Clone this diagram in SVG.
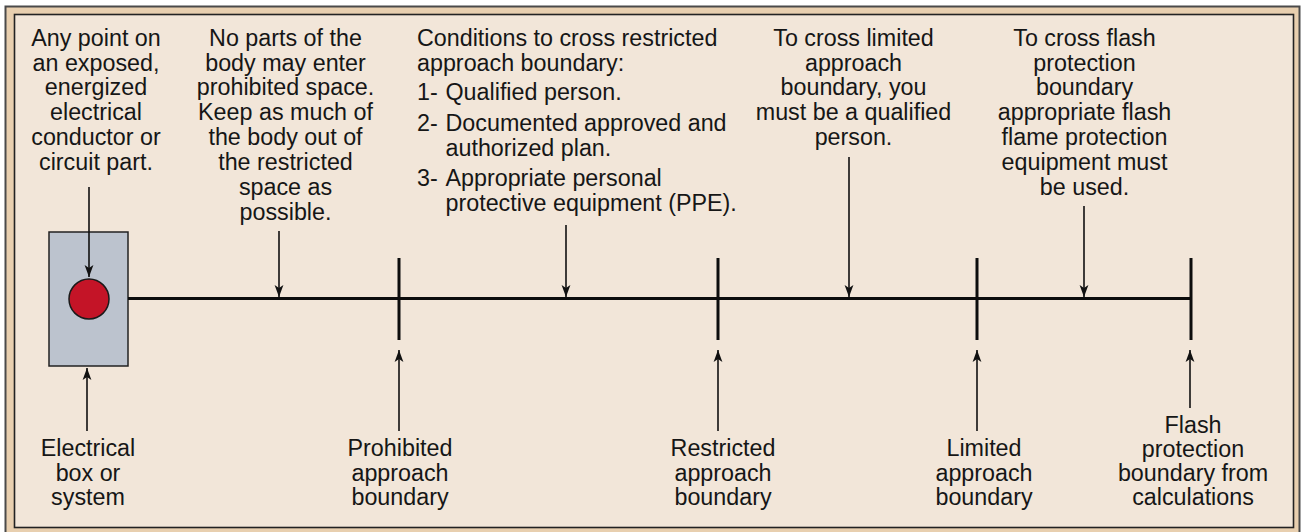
<svg xmlns="http://www.w3.org/2000/svg" width="1301" height="532" viewBox="0 0 1301 532">
<defs>
<marker id="ah" markerUnits="userSpaceOnUse" markerWidth="13" markerHeight="10" viewBox="0 0 13 10" refX="12" refY="5" orient="auto">
<path d="M0,0.6 L12,5 L0,9.4 L3,5 Z" fill="#111"/>
</marker>
<style>
text{font-family:"Liberation Sans",Arial,sans-serif;font-size:23.3px;fill:#161616}
.c{text-anchor:middle}
.arr{stroke:#111;stroke-width:1.6;fill:none;marker-end:url(#ah)}
.bar{stroke:#0d0d0d;stroke-width:3;fill:none}
</style>
</defs>
<rect x="0" y="0" width="1301" height="532" fill="#ffffff"/>
<rect x="5.5" y="6.5" width="1294" height="530" fill="#e8cfaf" stroke="#4a4a4a" stroke-width="2"/>
<rect x="14.5" y="14.5" width="1279" height="513" fill="#f2e6d9" stroke="#222" stroke-width="1.6"/>

<g id="box">
<rect x="49" y="232" width="79" height="134" fill="#bcc3ce" stroke="#222" stroke-width="1.5"/>
<circle cx="89" cy="299" r="20" fill="#c41427" stroke="#1a1a1a" stroke-width="1.5"/>
</g>

<g id="connectors">
<line class="bar" x1="128" y1="298.5" x2="1191" y2="298.5"/>
<line class="bar" x1="399" y1="258" x2="399" y2="340"/>
<line class="bar" x1="718" y1="258" x2="718" y2="340"/>
<line class="bar" x1="977" y1="258" x2="977" y2="340"/>
<line class="bar" x1="1191" y1="258" x2="1191" y2="340"/>
<line class="arr" x1="89" y1="187" x2="89" y2="277"/>
<line class="arr" x1="279" y1="231" x2="279" y2="297"/>
<line class="arr" x1="566" y1="225" x2="566" y2="297"/>
<line class="arr" x1="849" y1="157" x2="849" y2="297"/>
<line class="arr" x1="1084" y1="206" x2="1084" y2="297"/>
<line class="arr" x1="87" y1="431" x2="87" y2="368"/>
<line class="arr" x1="399" y1="431" x2="399" y2="350"/>
<line class="arr" x1="718" y1="431" x2="718" y2="350"/>
<line class="arr" x1="977" y1="431" x2="977" y2="350"/>
<line class="arr" x1="1190" y1="408" x2="1190" y2="350"/>
</g>

<g id="note-point">
<text class="c" x="96" y="45.7">Any point on</text>
<text class="c" x="96" y="70.5">an exposed,</text>
<text class="c" x="96" y="95.3">energized</text>
<text class="c" x="96" y="120">electrical</text>
<text class="c" x="96" y="145">conductor or</text>
<text class="c" x="96" y="170">circuit part.</text>
</g>

<g id="note-prohibited">
<text class="c" x="285.5" y="45.7">No parts of the</text>
<text class="c" x="285.5" y="70.5">body may enter</text>
<text class="c" x="285.5" y="95.3">prohibited space.</text>
<text class="c" x="285.5" y="120">Keep as much of</text>
<text class="c" x="285.5" y="145">the body out of</text>
<text class="c" x="285.5" y="170">the restricted</text>
<text class="c" x="285.5" y="195">space as</text>
<text class="c" x="285.5" y="220">possible.</text>
</g>

<g id="note-restricted">
<text x="417" y="45.7">Conditions to cross restricted</text>
<text x="417" y="70.7">approach boundary:</text>
<text x="417" y="100">1-</text>
<text x="445.5" y="100">Qualified person.</text>
<text x="417" y="130.7">2-</text>
<text x="445.5" y="130.7">Documented approved and</text>
<text x="445.5" y="155.7">authorized plan.</text>
<text x="417" y="186">3-</text>
<text x="445.5" y="186">Appropriate personal</text>
<text x="445.5" y="211">protective equipment (PPE).</text>
</g>

<g id="note-limited">
<text class="c" x="853.5" y="45.7">To cross limited</text>
<text class="c" x="853.5" y="70.5">approach</text>
<text class="c" x="853.5" y="95.3">boundary, you</text>
<text class="c" x="853.5" y="120">must be a qualified</text>
<text class="c" x="853.5" y="145">person.</text>
</g>

<g id="note-flash">
<text class="c" x="1084.5" y="45.7">To cross flash</text>
<text class="c" x="1084.5" y="70.5">protection</text>
<text class="c" x="1084.5" y="95.3">boundary</text>
<text class="c" x="1084.5" y="120">appropriate flash</text>
<text class="c" x="1084.5" y="145">flame protection</text>
<text class="c" x="1084.5" y="170">equipment must</text>
<text class="c" x="1084.5" y="195">be used.</text>
</g>

<g id="label-box">
<text class="c" x="88" y="456">Electrical</text>
<text class="c" x="88" y="481">box or</text>
<text class="c" x="88" y="505">system</text>
</g>
<g id="label-prohibited">
<text class="c" x="400" y="456">Prohibited</text>
<text class="c" x="400" y="481">approach</text>
<text class="c" x="400" y="505">boundary</text>
</g>
<g id="label-restricted">
<text class="c" x="723" y="456">Restricted</text>
<text class="c" x="723" y="481">approach</text>
<text class="c" x="723" y="505">boundary</text>
</g>
<g id="label-limited">
<text class="c" x="984" y="456">Limited</text>
<text class="c" x="984" y="481">approach</text>
<text class="c" x="984" y="505">boundary</text>
</g>
<g id="label-flash">
<text class="c" x="1193" y="432.5">Flash</text>
<text class="c" x="1193" y="457">protection</text>
<text class="c" x="1193" y="481">boundary from</text>
<text class="c" x="1193" y="505">calculations</text>
</g>
</svg>
